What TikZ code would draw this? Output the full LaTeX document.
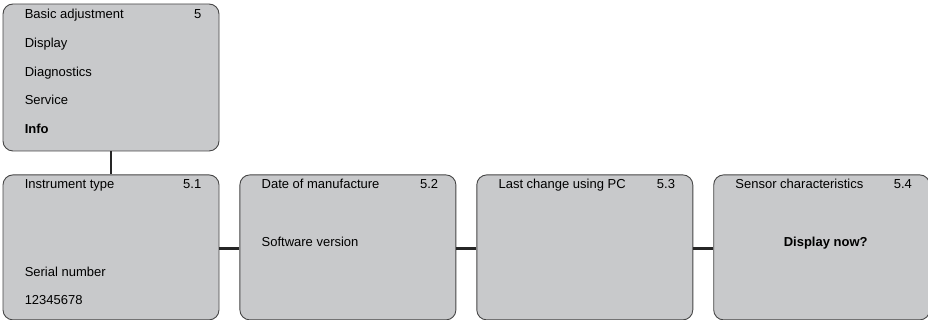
\documentclass[tikz,border=0pt]{standalone}
\usepackage{fontspec}
\setmainfont{Liberation Sans}
\usepackage{xcolor}
\usetikzlibrary{positioning, calc}
\definecolor{panelgray}{RGB}{200,201,203}
\definecolor{edgegray}{RGB}{70,70,70}
\tikzstyle{menubox} = [rectangle, rounded corners=10pt, minimum width=216pt, minimum height=145pt, draw=edgegray, line width=0.9pt, fill=panelgray]
\tikzstyle{item} = [anchor=west, inner sep=0pt, text height=9.3pt, text depth=0pt, font=\fontsize{13pt}{15pt}\selectfont]
\tikzstyle{num} = [item, anchor=east]
\tikzstyle{link} = [line width=2.8pt, draw=black!85]

\begin{document}
\begin{tikzpicture}[x=1pt, y=1pt]
    \useasboundingbox (0,0) rectangle (928,320);
    % Main menu
    \node[menubox, minimum height=147pt] (basic) at (111,242.5) {};
    \node[item] (basictxt) at ($(basic.north west)+(22,-10)$) {Basic adjustment};
    \node[num] (basicnum) at ($(basic.north east)+(-18,-10)$) {5};
    \node[item] (disp) at ($(basic.north west)+(22,-39)$) {Display};
    \node[item] (diag) at ($(basic.north west)+(22,-68)$) {Diagnostics};
    \node[item] (serv) at ($(basic.north west)+(22,-96)$) {Service};
    \node[item, font=\fontsize{13pt}{15pt}\selectfont\bfseries] (info) at ($(basic.north west)+(22,-125)$) {Info};

    % Info submenus
    \node[menubox, below=23pt of basic] (instr) {};
    \node[menubox, right=20pt of instr] (datem) {};
    \node[menubox, right=20pt of datem] (lastpc) {};
    \node[menubox, right=20pt of lastpc] (sensor) {};

    \node[item] (instrtxt) at ($(instr.north west)+(22,-9)$) {Instrument type};
    \node[num] (instrnum) at ($(instr.north east)+(-18,-9)$) {5.1};
    \node[item] (serial) at ($(instr.north west)+(22,-97)$) {Serial number};
    \node[item] (serialval) at ($(instr.north west)+(22,-125)$) {12345678};

    \node[item] (datetxt) at ($(datem.north west)+(22,-9)$) {Date of manufacture};
    \node[num] (datenum) at ($(datem.north east)+(-18,-9)$) {5.2};
    \node[item] (softw) at ($(datem.north west)+(22,-67)$) {Software version};

    \node[item] (lasttxt) at ($(lastpc.north west)+(22,-9)$) {Last change using PC};
    \node[num] (lastnum) at ($(lastpc.north east)+(-18,-9)$) {5.3};

    \node[item] (sensortxt) at ($(sensor.north west)+(22,-9)$) {Sensor characteristics};
    \node[num] (sensornum) at ($(sensor.north east)+(-18,-9)$) {5.4};
    \node[item, anchor=center, font=\fontsize{13pt}{15pt}\selectfont\bfseries] (shownow) at ($(sensor.north)+(4,-67)$) {Display now?};

    % Connections
    \draw[link] (basic.south) -- (instr.north);
    \draw[link] ($(instr.east)+(0,-1.5)$) -- ($(datem.west)+(0,-1.5)$);
    \draw[link] ($(datem.east)+(0,-1.5)$) -- ($(lastpc.west)+(0,-1.5)$);
    \draw[link] ($(lastpc.east)+(0,-1.5)$) -- ($(sensor.west)+(0,-1.5)$);
\end{tikzpicture}
\end{document}
